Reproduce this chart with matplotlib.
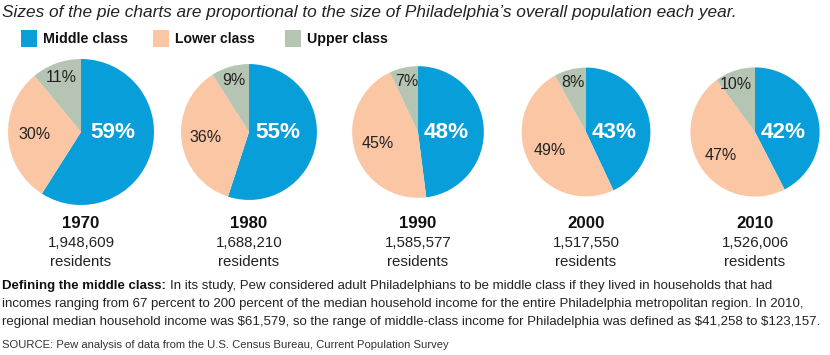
import matplotlib
matplotlib.use("Agg")
import matplotlib.pyplot as plt
from matplotlib.patches import Rectangle
import numpy as np

years = ["1970", "1980", "1990", "2000", "2010"]
population = [1948609, 1688210, 1585577, 1517550, 1526006]
middle = [59, 55, 48, 43, 42]
lower = [30, 36, 45, 49, 47]
upper = [11, 9, 7, 8, 10]
classes = ["Middle class", "Lower class", "Upper class"]
colors = ["#079ed9", "#fac6a3", "#b6c4b3"]

W, H = 830, 355
fig = plt.figure(figsize=(W / 100, H / 100), dpi=100)
ax = fig.add_axes([0, 0, 1, 1])
plt.rcParams["font.family"] = ["Liberation Sans", "DejaVu Sans"]
renderer = fig.canvas.get_renderer()


def Y(y):
    return H - y


def fit(t, width):
    w = t.get_window_extent(renderer).width
    t.set_fontsize(t.get_fontsize() * width / w)
    return t.get_fontsize()


t = ax.text(2, Y(12), "Sizes of the pie charts are proportional to the size of Philadelphia\u2019s overall population each year.",
            fontsize=10, style="italic", va="center", ha="left", color="#222222")
fit(t, 736)

leg_x = [21, 153, 285]
leg_w = [85, 80, 81]
for i, (lx, name) in enumerate(zip(leg_x, classes)):
    ax.add_patch(Rectangle((lx, Y(47)), 16, 17, color=colors[i], lw=0))
    t = ax.text(lx + 22, Y(39), name, fontsize=11, fontweight="bold", va="center", ha="left", color="#111111")
    fit(t, leg_w[i])

centers_x = [81, 249, 418, 586, 755]
cy = 132
r0 = 73
big_fs = None
small_fs = None
year_fs = None
num_fs = None
res_fs = None
for i in range(len(years)):
    r = r0 * np.sqrt(population[i] / population[0])
    vals = [middle[i], lower[i], upper[i]]
    ax.pie(vals, colors=colors, startangle=90, counterclock=False,
           center=(centers_x[i], Y(cy)), radius=r,
           wedgeprops=dict(linewidth=0), frame=True)
    start = 90.0
    dists = [0.44, 0.64, 0.79]
    for j, v in enumerate(vals):
        span = v / 100 * 360
        mid = np.deg2rad(start - span / 2)
        start -= span
        x = centers_x[i] + dists[j] * r * np.cos(mid)
        y = Y(cy) + dists[j] * r * np.sin(mid)
        if j == 0:
            x = centers_x[i] + 0.43 * r
            y = Y(cy)
            t = ax.text(x, y, f"{v}%", fontsize=18, fontweight="bold", color="white", ha="center", va="center")
            if big_fs is None:
                big_fs = fit(t, 45)
            else:
                t.set_fontsize(big_fs)
        else:
            t = ax.text(x, y, f"{v}%", fontsize=11, color="#222222", ha="center", va="center")
            if small_fs is None:
                small_fs = fit(t, 32) if j == 1 else None
            if small_fs is not None:
                t.set_fontsize(small_fs)
    t = ax.text(centers_x[i], Y(224), years[i], fontsize=12, fontweight="bold", ha="center", va="center", color="#111111")
    if year_fs is None:
        year_fs = fit(t, 37)
    t.set_fontsize(year_fs)
    t = ax.text(centers_x[i], Y(243), f"{population[i]:,}", fontsize=11.5, ha="center", va="center", color="#222222")
    if num_fs is None:
        num_fs = fit(t, 67)
    t.set_fontsize(num_fs)
    t = ax.text(centers_x[i], Y(262), "residents", fontsize=11.5, ha="center", va="center", color="#222222")
    if res_fs is None:
        res_fs = fit(t, 61)
    t.set_fontsize(res_fs)

ax.set_xlim(0, W)
ax.set_ylim(0, H)
ax.set_aspect("equal")
ax.axis("off")

t3 = ax.text(2, Y(304), "incomes ranging from 67 percent to 200 percent of the median household income for the entire Philadelphia metropolitan region. In 2010,",
             fontsize=10, ha="left", va="center", color="#222222")
fs3 = fit(t3, 824)
t4 = ax.text(2, Y(322), "regional median household income was $61,579, so the range of middle-class income for Philadelphia was defined as $41,258 to $123,157.",
             fontsize=10, ha="left", va="center", color="#222222")
fs4 = fit(t4, 824)
fn_fs = min(fs3, fs4)
t3.set_fontsize(fn_fs)
t4.set_fontsize(fn_fs)
t1 = ax.text(2, Y(286), "Defining the middle class:", fontsize=fn_fs, fontweight="bold",
             ha="left", va="center", color="#111111")
bx = 2 + t1.get_window_extent(renderer).width + 4
t2 = ax.text(bx, Y(286), "In its study, Pew considered adult Philadelphians to be middle class if they lived in households that had",
             fontsize=fn_fs, ha="left", va="center", color="#222222")
t5 = ax.text(2, Y(345), "SOURCE: Pew analysis of data from the U.S. Census Bureau, Current Population Survey",
             fontsize=8.5, ha="left", va="center", color="#333333")
fit(t5, 445)

fig.savefig("out.png", dpi=100)
